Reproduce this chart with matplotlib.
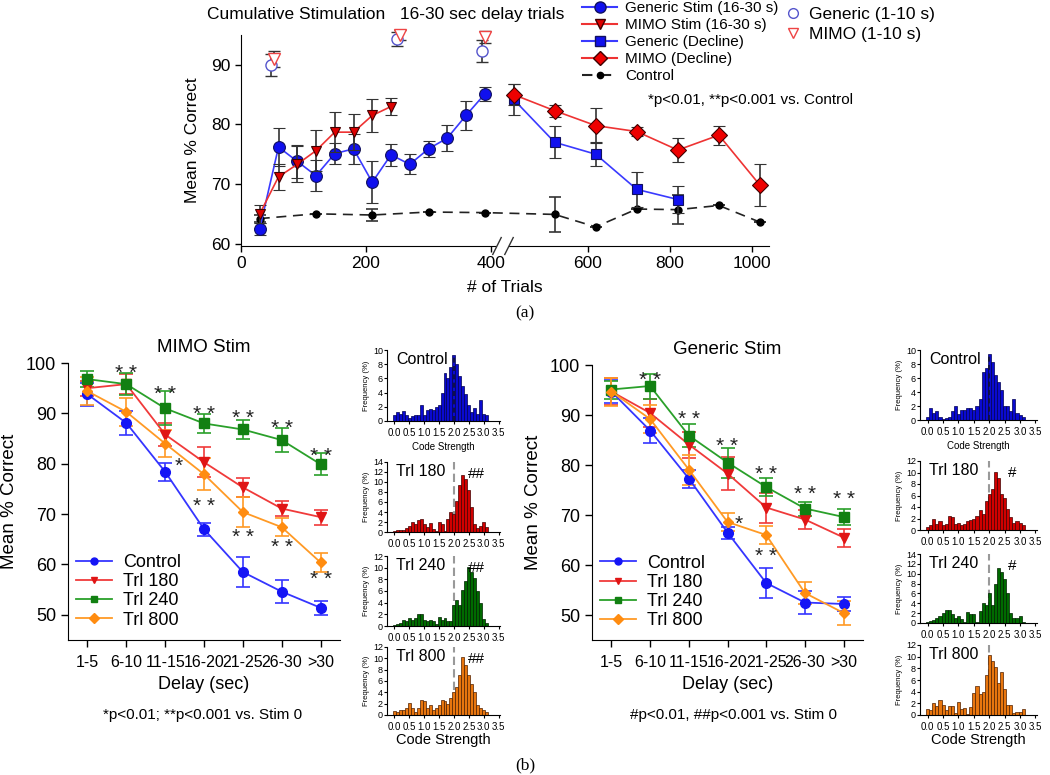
import numpy as np
import matplotlib
matplotlib.use("Agg")
import matplotlib.pyplot as plt
from matplotlib.lines import Line2D

plt.rcParams['font.family'] = ['Liberation Sans', 'DejaVu Sans']

W, H = 1050, 775

# ---------------- (a) cumulative stimulation ----------------
gen_x = [30, 60, 90, 120, 150, 180, 210, 240, 270, 300, 330, 360, 390]
gen_y = [62.5, 76.2, 73.8, 71.4, 75.1, 75.9, 70.3, 74.9, 73.3, 75.9, 77.7, 81.5, 85.1]
gen_e = [1.0, 3.2, 2.8, 2.6, 1.8, 2.5, 3.5, 1.8, 1.7, 1.4, 2.2, 2.4, 1.2]

mimo_x = [30, 60, 90, 120, 150, 180, 210, 240]
mimo_y = [65.0, 71.2, 73.3, 75.6, 78.7, 78.7, 81.5, 83.0]
mimo_e = [1.5, 2.2, 3.0, 3.5, 3.3, 3.0, 2.8, 1.5]

gen_dec_x = [420, 520, 620, 720, 820]
gen_dec_y = [84.2, 77.0, 75.0, 69.1, 67.4]
gen_dec_e = [2.6, 2.7, 2.0, 2.9, 2.3]

mimo_dec_x = [420, 520, 620, 720, 820, 920, 1020]
mimo_dec_y = [85.0, 82.3, 79.8, 78.8, 75.7, 78.2, 69.8]
mimo_dec_e = [1.8, 1.0, 3.0, 0.8, 2.0, 1.6, 3.5]

ctrl_x = [30, 120, 210, 300, 390, 520, 620, 720, 820, 920, 1020]
ctrl_y = [64.2, 65.0, 64.8, 65.3, 65.2, 64.9, 62.8, 65.8, 65.7, 66.4, 63.6]
ctrl_e = [0.6, 0.0, 1.0, 0.0, 0.0, 2.9, 0.0, 0.0, 2.4, 0.0, 0.0]

short_gen_x = [48, 250, 385]
short_gen_y = [90.0, 94.3, 92.3]
short_gen_e = [1.8, 1.2, 1.8]
short_mimo_x = [53, 255, 390]
short_mimo_y = [91.0, 95.0, 94.6]
short_mimo_e = [1.3, 0.9, 1.0]

# ---------------- (b) delay curves ----------------
delays = ['1-5', '6-10', '11-15', '16-20', '21-25', '26-30', '>30']
groups = ['Control', 'Trl 180', 'Trl 240', 'Trl 800']

mimo_ctrl = [93.8, 88.1, 78.4, 67.0, 58.5, 54.6, 51.4]
mimo_ctrl_e = [2.3, 2.4, 1.8, 1.3, 3.0, 2.3, 1.4]
mimo_t180 = [95.0, 95.8, 85.8, 80.3, 75.3, 71.1, 69.4]
mimo_t180_e = [1.5, 2.0, 2.2, 3.0, 1.9, 1.5, 1.5]
mimo_t240 = [96.8, 95.8, 91.0, 88.0, 86.8, 84.7, 79.9]
mimo_t240_e = [1.6, 2.2, 3.4, 1.8, 1.8, 2.4, 2.2]
mimo_t800 = [94.4, 90.3, 84.0, 77.9, 70.4, 67.4, 60.4]
mimo_t800_e = [2.8, 2.8, 2.6, 3.2, 3.0, 1.8, 1.8]

gen_ctrl = [94.7, 86.9, 77.3, 66.5, 56.4, 52.5, 52.2]
gen_ctrl_e = [2.3, 2.4, 1.8, 1.2, 3.0, 2.3, 1.4]
gen_t180 = [94.7, 90.4, 84.1, 78.3, 71.5, 69.1, 65.5]
gen_t180_e = [2.7, 2.7, 2.6, 3.3, 3.0, 1.9, 1.8]
gen_t240 = [95.1, 95.8, 85.9, 80.5, 75.6, 71.3, 69.6]
gen_t240_e = [1.8, 2.5, 2.2, 3.0, 1.8, 1.4, 1.6]
gen_t800 = [94.7, 89.2, 79.1, 68.6, 66.0, 54.4, 50.4]
gen_t800_e = [2.8, 2.8, 3.0, 1.8, 1.8, 2.2, 2.4]

# significance marks (x index, y value, text)
mimo_stars = [(1, 99.0, '**'), (2, 94.8, '**'), (3, 90.8, '**'), (4, 90.1, '**'),
              (5, 88.1, '**'), (6, 82.6, '**'), (2.35, 80.6, '*'),
              (3, 72.6, '**'), (4, 66.5, '**'), (5, 64.5, '**'), (6, 58.1, '**')]
gen_stars = [(1, 98.0, '**'), (2, 90.2, '**'), (3, 84.9, '**'), (4, 79.2, '**'),
             (5, 75.2, '**'), (6, 74.2, '**'), (3.3, 69.3, '*'), (4, 62.8, '**')]

# ---------------- code strength histograms (bins of 0.1, from 0.0) ----------------
mimo_h_ctrl = [0.8, 1.3, 1.0, 1.4, 0.9, 0.4, 0.7, 0.8, 0.9, 2.2, 0.8, 1.5, 1.7, 1.5, 2.0, 2.3,
               4.0, 6.8, 6.0, 7.6, 9.3, 8.0, 6.3, 5.0, 3.8, 2.2, 1.2, 1.8, 1.0, 3.0, 1.0, 0.9]
mimo_h_180 = [0.3, 0.4, 0.5, 0.4, 0.9, 1.2, 2.0, 1.6, 2.5, 2.6, 1.6, 1.0, 1.8, 0.6, 0.2, 2.0,
              1.6, 0.3, 2.6, 4.0, 3.6, 6.3, 9.5, 11.4, 10.6, 8.4, 5.0, 1.6, 0.8, 1.2, 2.0, 1.0]
mimo_h_240 = [0.2, 0.3, 0.5, 1.0, 0.8, 1.3, 1.0, 1.3, 2.1, 2.0, 1.0, 0.8, 1.0, 0.8, 0.3, 1.5,
              1.0, 1.3, 0.9, 0.8, 3.6, 4.5, 3.6, 6.2, 7.8, 10.2, 9.3, 8.2, 6.0, 4.0, 1.2, 0.6]
mimo_h_800 = [0.7, 0.6, 0.8, 0.9, 1.2, 2.2, 1.3, 0.6, 1.2, 2.6, 2.4, 1.2, 1.8, 0.8, 1.3, 1.8,
              2.7, 2.4, 2.0, 3.0, 4.0, 5.0, 7.0, 10.2, 8.8, 7.0, 5.5, 4.0, 1.8, 1.2, 0.8, 0.5]

gen_h_ctrl = [0.5, 1.7, 1.0, 1.3, 0.4, 0.1, 0.3, 0.5, 1.3, 2.0, 0.9, 1.5, 1.5, 1.7, 1.7, 1.5,
              2.0, 3.0, 6.8, 7.5, 9.5, 8.3, 6.5, 5.5, 4.3, 2.0, 2.0, 1.3, 3.0, 1.0, 0.7, 0.5]
gen_h_180 = [0.5, 0.8, 2.0, 1.0, 1.5, 0.8, 1.0, 2.5, 2.3, 1.0, 1.2, 0.8, 1.0, 1.5, 1.8, 2.0,
             2.4, 3.5, 2.8, 5.0, 6.3, 7.2, 10.1, 9.0, 6.2, 5.5, 3.6, 2.3, 1.3, 1.5, 1.2, 0.8]
gen_h_240 = [0.2, 0.4, 0.6, 1.1, 1.5, 2.0, 2.6, 2.6, 1.8, 1.0, 1.5, 0.8, 0.3, 2.2, 1.8, 1.8,
             0.2, 2.5, 4.0, 3.6, 6.0, 3.6, 8.0, 11.2, 10.3, 9.0, 6.0, 2.0, 1.0, 1.0, 1.5, 0.3]
gen_h_800 = [1.0, 0.8, 2.0, 1.6, 2.5, 1.8, 0.8, 1.5, 1.6, 0.4, 2.2, 1.0, 1.2, 0.2, 1.3, 3.8,
             5.0, 3.6, 4.0, 6.8, 10.3, 9.2, 8.2, 5.5, 7.3, 4.5, 1.8, 1.8, 0.3, 0.6, 0.6, 1.0]


def box(l, t, r, b):
    return [l / W, 1 - b / H, (r - l) / W, (b - t) / H]


def brk_fwd(x):
    x = np.asarray(x, float)
    return np.where(x <= 400, x, 423 + (x - 400) * 0.657)


def brk_inv(d):
    d = np.asarray(d, float)
    return np.where(d <= 400, d, np.where(d < 423, 400, 400 + (d - 423) / 0.657))


fig = plt.figure(figsize=(10.5, 7.75), dpi=100)

# ===== panel (a) =====
ax = fig.add_axes(box(241, 35, 769, 246))
ax.set_xscale('function', functions=(brk_fwd, brk_inv))
ax.set_xlim(0, 1042)
ax.set_ylim(59.6, 95)

eb = dict(ecolor='#333333', elinewidth=1.2, capsize=4, capthick=1.2)
ax.errorbar(ctrl_x, ctrl_y, yerr=ctrl_e, color='#222222', ls=(0, (6, 4)), lw=1.2,
            marker='o', ms=5, mfc='black', mec='black', zorder=2, **eb)
ax.errorbar(gen_x, gen_y, yerr=gen_e, color='#3a3aff', lw=1.2, marker='o', ms=8.5,
            mfc='#1010ee', mec='#101060', mew=0.8, zorder=3, **eb)
ax.errorbar(mimo_x, mimo_y, yerr=mimo_e, color='#ee3333', lw=1.2, marker='v', ms=7.5,
            mfc='#dd0000', mec='#400000', mew=0.8, zorder=4, **eb)
ax.errorbar(gen_dec_x, gen_dec_y, yerr=gen_dec_e, color='#3a3aff', lw=1.2, marker='s',
            ms=7.5, mfc='#1010ee', mec='#101060', mew=0.8, zorder=3, **eb)
ax.errorbar(mimo_dec_x, mimo_dec_y, yerr=mimo_dec_e, color='#ee3333', lw=1.2, marker='D',
            ms=8, mfc='#ee0000', mec='#400000', mew=0.8, zorder=4, **eb)
for xs_, ys_, es_, mk, mc in [(short_gen_x, short_gen_y, short_gen_e, 'o', '#5555cc'),
                              (short_mimo_x, short_mimo_y, short_mimo_e, 'v', '#ee4444')]:
    art = ax.errorbar(xs_, ys_, yerr=es_, ls='none', marker=mk, ms=8, mfc='white',
                      mec=mc, mew=1.0, zorder=3, **eb)
    for child in art.get_children():
        child.set_clip_on(False)

for s in ['top', 'right']:
    ax.spines[s].set_visible(False)
ax.set_xticks([0, 200, 400, 600, 800, 1000])
ax.set_yticks([60, 70, 80, 90])
ax.xaxis.set_minor_locator(matplotlib.ticker.NullLocator())
ax.tick_params(labelsize=12.5, length=4, width=1, direction='out')
ax.set_xlabel('# of Trials', fontsize=12.5, labelpad=6)
ax.set_ylabel('Mean % Correct', fontsize=12.5, labelpad=8)

# axis break marks
for px in (497, 509):
    a = (px - 241) / 528
    ax.plot([a - 0.008, a + 0.008], [-0.04, 0.04], transform=ax.transAxes,
            color='#333333', lw=1, clip_on=False, zorder=6)
ax.plot([(499 - 241) / 528, (507 - 241) / 528], [0, 0], transform=ax.transAxes,
        color='white', lw=3, clip_on=False, zorder=5)

fig.text(207 / W, 1 - 14 / H, 'Cumulative Stimulation   16-30 sec delay trials',
         fontsize=12.5, va='center', ha='left')
fig.text(648 / W, 1 - 100 / H, '*p<0.01, **p<0.001 vs. Control', fontsize=11,
         va='center', ha='left')

h1 = [Line2D([], [], color='#3a3aff', marker='o', ms=8, mfc='#1010ee', mec='#101060'),
      Line2D([], [], color='#ee3333', marker='v', ms=7, mfc='#dd0000', mec='#400000'),
      Line2D([], [], color='#3a3aff', marker='s', ms=7, mfc='#1010ee', mec='#101060'),
      Line2D([], [], color='#ee3333', marker='D', ms=7.5, mfc='#ee0000', mec='#400000'),
      Line2D([], [], color='#222222', ls=(0, (5, 4)), marker='o', ms=4.5, mfc='black',
             mec='black')]
l1 = ['Generic Stim (16-30 s)', 'MIMO Stim (16-30 s)', 'Generic (Decline)',
      'MIMO (Decline)', 'Control']
fig.legend(h1, l1, loc='upper left', bbox_to_anchor=(582 / W, 1 - 1 / H), frameon=False,
           fontsize=11, borderpad=0, borderaxespad=0, handlelength=2.3,
           handletextpad=0.5, labelspacing=0.2)
h2 = [Line2D([], [], ls='none', marker='o', ms=7, mfc='white', mec='#5555cc'),
      Line2D([], [], ls='none', marker='v', ms=7, mfc='white', mec='#ee4444')]
fig.legend(h2, ['Generic (1-10 s)', 'MIMO (1-10 s)'], loc='upper left',
           bbox_to_anchor=(786 / W, 1 - 7 / H), frameon=False, fontsize=12.5,
           borderpad=0, borderaxespad=0, handlelength=0.8, handletextpad=0.5,
           labelspacing=0.25)

fig.text(525 / W, 1 - 313 / H, '(a)', fontsize=12.5, family='Liberation Serif',
         ha='center', va='center')
fig.text(525 / W, 1 - 765 / H, '(b)', fontsize=12.5, family='Liberation Serif',
         ha='center', va='center')

# ===== panel (b): delay curves =====
styles = [dict(color='#3535ff', marker='o', ms=7, mfc='#1515f5', mec='#1515f5'),
          dict(color='#f03a3a', marker='v', ms=7, mfc='#e01515', mec='#e01515'),
          dict(color='#2aa02a', marker='s', ms=6.5, mfc='#128012', mec='#128012'),
          dict(color='#ff9a25', marker='D', ms=5.5, mfc='#ff8c10', mec='#ff8c10')]


def delay_panel(rect, title, series, errs, stars, note, note_x):
    a = fig.add_axes(box(*rect))
    xs = np.arange(len(delays))
    for vals, err, st in zip(series, errs, styles):
        a.errorbar(xs, vals, yerr=err, lw=1.3, elinewidth=1.2, capsize=5, capthick=1.2,
                   ecolor=st['color'], **st)
    for x, y, t in stars:
        a.annotate(t.replace('**', '* *'), (x, y), xytext=(0, -8), textcoords='offset points',
                   ha='center', va='baseline', fontsize=15, color='#222222')
    a.set_xlim(-0.5, 6.5)
    a.set_ylim(45, 100)
    a.set_xticks(xs)
    a.set_xticklabels(delays)
    a.set_yticks([50, 60, 70, 80, 90, 100])
    for s in ['top', 'right']:
        a.spines[s].set_visible(False)
    a.tick_params(labelsize=13, length=5, width=1, direction='out')
    a.tick_params(axis='x', labelsize=11.5, pad=6)
    a.set_title(title, fontsize=13.5, pad=8)
    a.set_xlabel('Delay (sec)', fontsize=13, labelpad=4)
    a.set_ylabel('Mean % Correct', fontsize=13.5, labelpad=6)
    hs = [Line2D([], [], lw=1.3, color=st['color'], marker=st['marker'], ms=5,
                 mfc=st['mfc'], mec=st['mec']) for st in styles]
    a.legend(hs, groups, loc='upper left', bbox_to_anchor=(0.03, 0.31), frameon=False,
             fontsize=13, borderpad=0, borderaxespad=0, handlelength=2.0,
             handletextpad=0.6, labelspacing=0.12)
    fig.text(note_x / W, 1 - 715 / H, note, fontsize=11, ha='center', va='center')
    return a


delay_panel((68, 363, 340, 640), 'MIMO Stim',
            [mimo_ctrl, mimo_t180, mimo_t240, mimo_t800],
            [mimo_ctrl_e, mimo_t180_e, mimo_t240_e, mimo_t800_e], mimo_stars,
            '*p<0.01; **p<0.001 vs. Stim 0', 203)
delay_panel((592, 365, 863, 640), 'Generic Stim',
            [gen_ctrl, gen_t180, gen_t240, gen_t800],
            [gen_ctrl_e, gen_t180_e, gen_t240_e, gen_t800_e], gen_stars,
            '#p<0.01, ##p<0.001 vs. Stim 0', 733)

# ===== histograms =====
hist_cols = {'Control': ('#0a0ad0', '#000050'), 'Trl 180': ('#d00000', '#400000'),
             'Trl 240': ('#006a00', '#002000'), 'Trl 800': ('#e8760e', '#502000')}


def hist(rect, heights, name, ymax, mark, xlab):
    a = fig.add_axes(box(*rect))
    fc, ec = hist_cols[name]
    centers = np.arange(len(heights)) * 0.1
    a.bar(centers, heights, width=0.1, color=fc, edgecolor=ec, linewidth=0.5, zorder=2)
    if name == 'Control':
        a.vlines(2.0, 0, max(heights), color='#111133', ls=(0, (3, 2)), lw=1.2, zorder=3)
    else:
        a.axvline(2.0, color='#999999', ls=(0, (4, 2)), lw=1.5, zorder=1)
    a.set_xlim(-0.25, 3.55)
    a.set_ylim(0, ymax)
    a.set_xticks(np.arange(0, 3.6, 0.5))
    a.set_xticklabels(['0.0', '0.5', '1.0', '1.5', '2.0', '2.5', '3.0', '3.5'])
    a.set_yticks(np.arange(0, ymax + 1, 2))
    for s in ['top', 'right']:
        a.spines[s].set_visible(False)
    a.tick_params(axis='x', labelsize=7, length=2, pad=3)
    a.tick_params(axis='y', labelsize=6.5, length=2, pad=1)
    a.set_ylabel('Frequency (%)', fontsize=5.5, labelpad=2)
    a.text(0.08, 0.97, name, transform=a.transAxes, fontsize=11.5, va='top', ha='left')
    if mark:
        a.text(2.75, ymax * 0.93, mark, fontsize=11, va='top', ha='center')
    if xlab == 'small':
        a.set_xlabel('Code Strength', fontsize=7, labelpad=3)
    elif xlab == 'big':
        a.set_xlabel('Code Strength', fontsize=10.5, labelpad=1)


hist((387, 350, 500, 421), mimo_h_ctrl, 'Control', 10, '', 'small')
hist((387, 462, 500, 532), mimo_h_180, 'Trl 180', 14, '##', '')
hist((387, 556, 500, 626), mimo_h_240, 'Trl 240', 12, '##', '')
hist((387, 647, 500, 715), mimo_h_800, 'Trl 800', 12, '##', 'big')

hist((920, 350, 1037, 420), gen_h_ctrl, 'Control', 10, '', 'small')
hist((920, 461, 1037, 530), gen_h_180, 'Trl 180', 12, '#', '')
hist((920, 554, 1037, 623), gen_h_240, 'Trl 240', 14, '#', '')
hist((920, 645, 1037, 715), gen_h_800, 'Trl 800', 12, '', 'big')

fig.savefig('out.png', dpi=100)
